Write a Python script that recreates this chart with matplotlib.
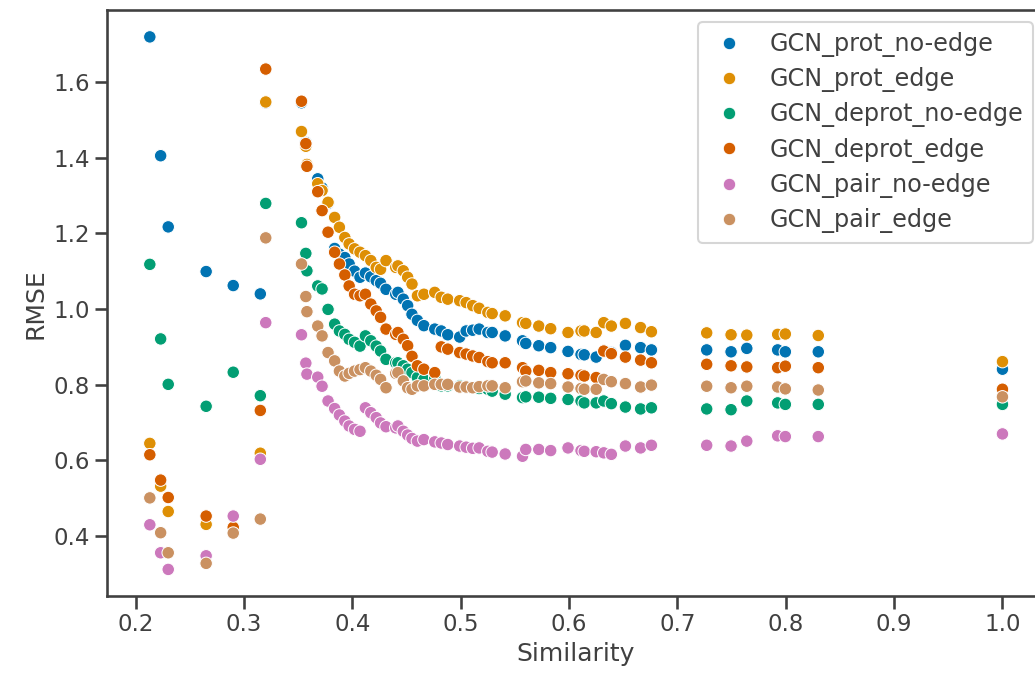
import matplotlib
matplotlib.use("Agg")
import matplotlib.pyplot as plt
import pandas as pd
import seaborn as sns

similarity = [0.213, 0.223, 0.230, 0.265, 0.290, 0.315, 0.320,
              0.353, 0.357, 0.358, 0.368, 0.372, 0.3775, 0.3836, 0.388, 0.393, 0.397,
              0.402, 0.407, 0.412, 0.417, 0.422, 0.426, 0.431, 0.440, 0.442, 0.447,
              0.451, 0.455, 0.460, 0.466, 0.476, 0.482, 0.488, 0.499, 0.505, 0.511,
              0.517, 0.525, 0.529, 0.541, 0.557, 0.560, 0.572, 0.583, 0.599, 0.611,
              0.614, 0.625, 0.632, 0.639, 0.652, 0.666, 0.676,
              0.727, 0.7495, 0.764, 0.7925, 0.7996, 0.830, 1.0]

prot_no_edge = [1.719, 1.405, 1.217, 1.099, 1.062, 1.040, 1.545,
                1.545, 1.44, 1.38, 1.344, 1.32, 1.279, 1.16, 1.145, 1.136, 1.119,
                1.10, 1.084, 1.095, 1.085, 1.075, 1.068, 1.052, 1.039, 1.044, 1.026,
                1.009, 0.986, 0.970, 0.956, 0.947, 0.942, 0.932, 0.926, 0.942, 0.944,
                0.947, 0.938, 0.938, 0.929, 0.916, 0.909, 0.903, 0.898, 0.888, 0.880,
                0.879, 0.873, 0.889, 0.885, 0.904, 0.898, 0.892,
                0.892, 0.887, 0.896, 0.892, 0.887, 0.887, 0.841]

prot_edge = [0.645, 0.532, 0.465, 0.431, 0.415, 0.619, 1.547,
             1.469, 1.43, 1.382, 1.331, 1.313, 1.282, 1.242, 1.216, 1.189, 1.172,
             1.159, 1.150, 1.141, 1.128, 1.110, 1.105, 1.128, 1.110, 1.114, 1.101,
             1.084, 1.066, 1.035, 1.039, 1.044, 1.031, 1.026, 1.022, 1.017, 1.009,
             1.002, 0.991, 0.988, 0.982, 0.964, 0.962, 0.955, 0.948, 0.938, 0.942,
             0.942, 0.938, 0.964, 0.955, 0.962, 0.951, 0.940,
             0.937, 0.932, 0.931, 0.933, 0.934, 0.930, 0.861]

deprot_no_edge = [1.118, 0.921, 0.801, 0.743, 0.833, 0.771, 1.279,
                  1.228, 1.147, 1.101, 1.061, 1.053, 0.999, 0.960, 0.942, 0.933, 0.920,
                  0.912, 0.902, 0.929, 0.916, 0.902, 0.889, 0.867, 0.858, 0.858, 0.850,
                  0.841, 0.832, 0.819, 0.814, 0.819, 0.797, 0.797, 0.797, 0.794, 0.792,
                  0.790, 0.788, 0.783, 0.775, 0.766, 0.768, 0.767, 0.764, 0.761, 0.757,
                  0.752, 0.752, 0.757, 0.750, 0.741, 0.736, 0.739,
                  0.736, 0.734, 0.757, 0.752, 0.748, 0.748, 0.748]

deprot_edge = [0.615, 0.548, 0.502, 0.453, 0.423, 0.732, 1.634,
               1.549, 1.437, 1.377, 1.31, 1.26, 1.203, 1.150, 1.119, 1.090, 1.061,
               1.039, 1.035, 1.039, 1.013, 0.995, 0.978, 0.947, 0.933, 0.938, 0.920,
               0.903, 0.875, 0.850, 0.841, 0.832, 0.900, 0.894, 0.885, 0.881, 0.876,
               0.872, 0.861, 0.858, 0.858, 0.845, 0.836, 0.838, 0.832, 0.829, 0.825,
               0.823, 0.819, 0.889, 0.882, 0.873, 0.865, 0.858,
               0.854, 0.850, 0.847, 0.845, 0.849, 0.845, 0.788]

pair_no_edge = [0.430, 0.356, 0.312, 0.348, 0.453, 0.603, 0.964,
                0.932, 0.857, 0.828, 0.820, 0.796, 0.757, 0.737, 0.720, 0.704, 0.691,
                0.682, 0.677, 0.739, 0.726, 0.713, 0.699, 0.689, 0.686, 0.691, 0.677,
                0.667, 0.658, 0.651, 0.655, 0.649, 0.646, 0.642, 0.638, 0.635, 0.632,
                0.633, 0.624, 0.622, 0.617, 0.611, 0.629, 0.629, 0.626, 0.633, 0.626,
                0.624, 0.623, 0.620, 0.616, 0.638, 0.633, 0.640,
                0.640, 0.638, 0.651, 0.665, 0.663, 0.663, 0.670]

pair_edge = [0.501, 0.409, 0.356, 0.328, 0.408, 0.445, 1.188,
             1.119, 1.033, 0.993, 0.955, 0.929, 0.885, 0.863, 0.836, 0.823, 0.830,
             0.836, 0.840, 0.845, 0.836, 0.825, 0.814, 0.792, 0.830, 0.832, 0.810,
             0.792, 0.788, 0.797, 0.797, 0.801, 0.801, 0.801, 0.794, 0.794, 0.792,
             0.795, 0.797, 0.797, 0.792, 0.808, 0.810, 0.805, 0.803, 0.794, 0.790,
             0.788, 0.788, 0.814, 0.808, 0.803, 0.794, 0.799,
             0.796, 0.792, 0.796, 0.794, 0.789, 0.786, 0.768]

series = {
    "GCN_prot_no-edge": prot_no_edge,
    "GCN_prot_edge": prot_edge,
    "GCN_deprot_no-edge": deprot_no_edge,
    "GCN_deprot_edge": deprot_edge,
    "GCN_pair_no-edge": pair_no_edge,
    "GCN_pair_edge": pair_edge,
}

df = pd.concat([pd.DataFrame({"Similarity": similarity, "RMSE": vals, "model": name})
                for name, vals in series.items()], ignore_index=True)

sns.set_theme(context="talk", style="ticks")
grey = "0.25"
plt.rcParams.update({"text.color": grey, "axes.labelcolor": grey,
                     "axes.edgecolor": grey, "xtick.color": grey,
                     "ytick.color": grey})

fig = plt.figure(figsize=(10.35, 6.75), dpi=100)
ax = fig.add_axes([0.1034, 0.117, 0.9063, 0.8676])
sns.scatterplot(data=df, x="Similarity", y="RMSE", hue="model",
                palette="colorblind", ax=ax)
ax.legend(loc="upper right", fontsize=17.2, labelspacing=0.43,
          handlelength=1.8)

ax.set_xlim(0.1735, 1.0393)
ax.set_ylim(0.2417, 1.789)
ax.set_xticks([0.2, 0.3, 0.4, 0.5, 0.6, 0.7, 0.8, 0.9, 1.0])
ax.set_yticks([0.4, 0.6, 0.8, 1.0, 1.2, 1.4, 1.6])

fig.savefig("out.png", dpi=100)
